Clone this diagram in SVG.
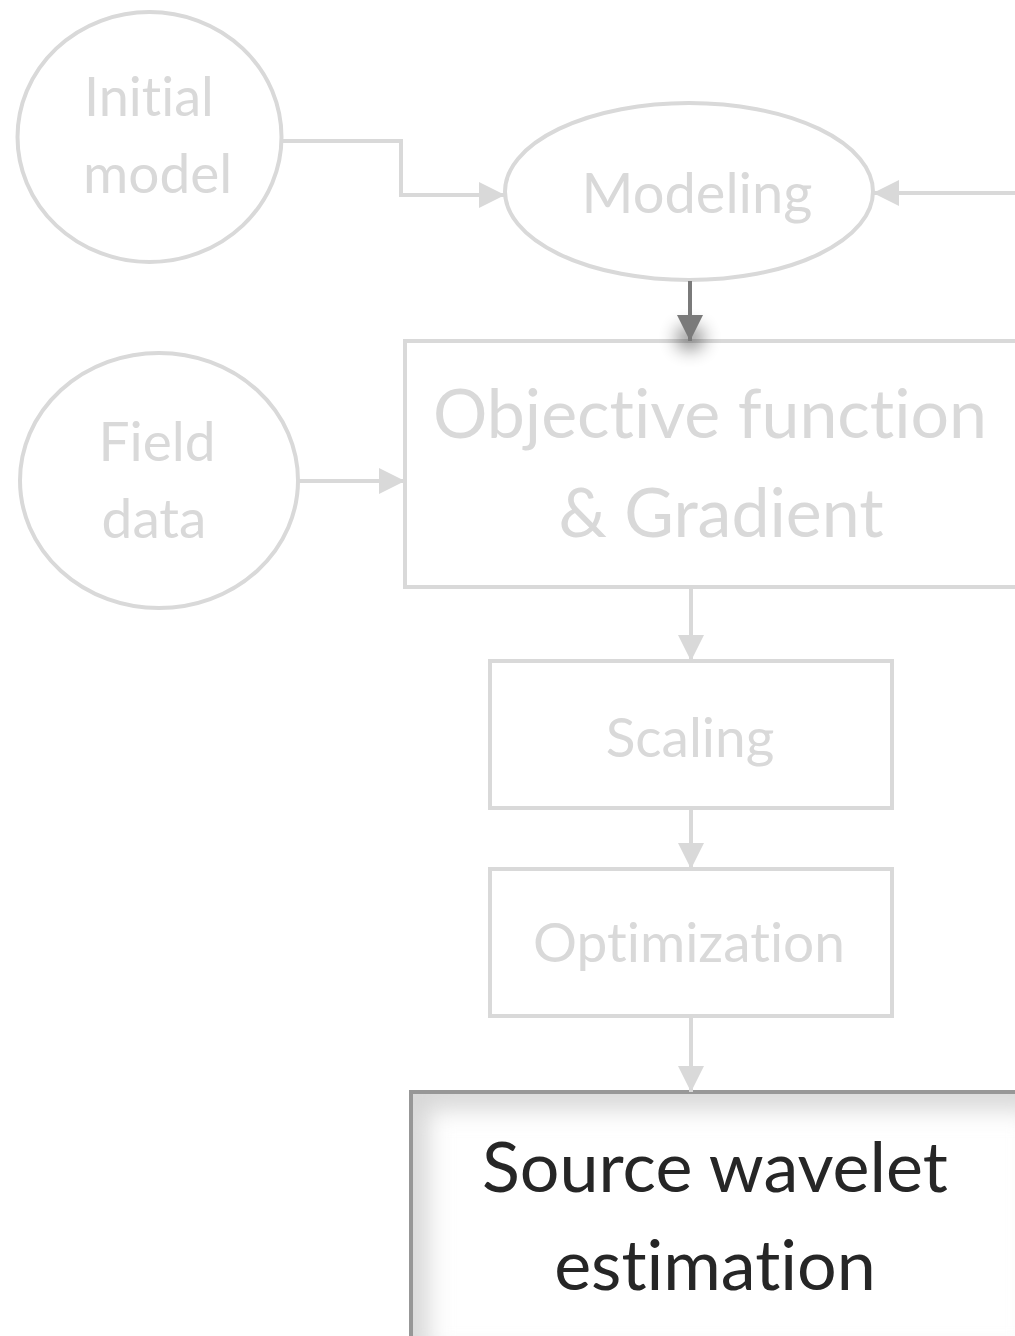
<svg xmlns="http://www.w3.org/2000/svg" width="1015" height="1336" viewBox="0 0 1015 1336">
<style>
.node{fill:#ffffff;stroke:#d9d9d9;stroke-width:4}
.lt{fill:#d9d9d9;font-family:Lato,"Liberation Sans",sans-serif;font-variant-ligatures:none;font-feature-settings:"liga" 0}
.dk{fill:#262626;font-family:Lato,"Liberation Sans",sans-serif;font-variant-ligatures:none;font-feature-settings:"liga" 0}
.con{fill:none;stroke:#d9d9d9;stroke-width:4}
</style>
<defs>
<marker id="ah" markerUnits="userSpaceOnUse" markerWidth="26" markerHeight="26" viewBox="0 0 26 26" refX="26" refY="13" orient="auto">
<path d="M0,0 L26,13 L0,26 Z" fill="#d9d9d9"/>
</marker>
<marker id="ahd" markerUnits="userSpaceOnUse" markerWidth="26" markerHeight="26" viewBox="0 0 26 26" refX="26" refY="13" orient="auto">
<path d="M0,0 L26,13 L0,26 Z" fill="#7a7a7a"/>
</marker>
<filter id="blur" x="-1" y="-1" width="3" height="3"><feGaussianBlur stdDeviation="9"/></filter>
<filter id="ib" x="-0.2" y="-0.2" width="1.4" height="1.4"><feGaussianBlur stdDeviation="12"/></filter>
<clipPath id="srcclip"><rect x="411" y="1092" width="620" height="260"/></clipPath>
</defs>

<g id="initial-model">
<ellipse class="node" cx="149.5" cy="137" rx="132" ry="125"/>
<text class="lt" x="84" y="116" font-size="54">Initial</text>
<text class="lt" x="83" y="193" font-size="55">model</text>
</g>

<g id="modeling">
<ellipse class="node" cx="689" cy="191.5" rx="184" ry="88.5"/>
<text class="lt" x="697" y="213" font-size="56" text-anchor="middle">Modeling</text>
</g>

<g id="field-data">
<ellipse class="node" cx="159" cy="480.5" rx="139" ry="127.5"/>
<text class="lt" x="157" y="461" font-size="55" text-anchor="middle">Field</text>
<text class="lt" x="154" y="538" font-size="55" text-anchor="middle">data</text>
</g>

<g id="objective">
<rect class="node" x="405" y="341" width="640" height="246"/>
<text class="lt" x="710" y="438" font-size="68" text-anchor="middle">Objective function</text>
<text class="lt" x="721" y="537" font-size="68" text-anchor="middle">&amp; Gradient</text>
</g>

<g id="scaling">
<rect class="node" x="490" y="661" width="402" height="147"/>
<text class="lt" x="690" y="757" font-size="55" text-anchor="middle">Scaling</text>
</g>

<g id="optimization">
<rect class="node" x="490" y="869" width="402" height="147"/>
<text class="lt" x="689" y="962" font-size="55" text-anchor="middle">Optimization</text>
</g>

<g id="source-wavelet">
<rect x="411" y="1092" width="640" height="280" fill="#ffffff"/>
<g clip-path="url(#srcclip)">
<rect x="411" y="1092" width="640" height="280" fill="none" stroke="#d6d6d6" stroke-width="34" filter="url(#ib)"/>
</g>
<rect x="411" y="1092" width="640" height="280" fill="none" stroke="#979797" stroke-width="4"/>
<text class="dk" x="715" y="1192" font-size="70" text-anchor="middle">Source wavelet</text>
<text class="dk" x="715" y="1290" font-size="70" text-anchor="middle">estimation</text>
</g>

<g id="connectors">
<path class="con" d="M282,141 H401 V195 H505" marker-end="url(#ah)"/>
<path class="con" d="M1015,193 H873" marker-end="url(#ah)"/>
<path class="con" d="M298,481 H405" marker-end="url(#ah)"/>
<ellipse cx="690" cy="338" rx="14" ry="12" fill="#000" opacity="0.45" filter="url(#blur)"/>
<path d="M690,281 V341" fill="none" stroke="#7a7a7a" stroke-width="4" marker-end="url(#ahd)"/>
<path class="con" d="M691,588 V661" marker-end="url(#ah)"/>
<path class="con" d="M691,810 V869" marker-end="url(#ah)"/>
<path class="con" d="M691,1018 V1092" marker-end="url(#ah)"/>
</g>
</svg>
